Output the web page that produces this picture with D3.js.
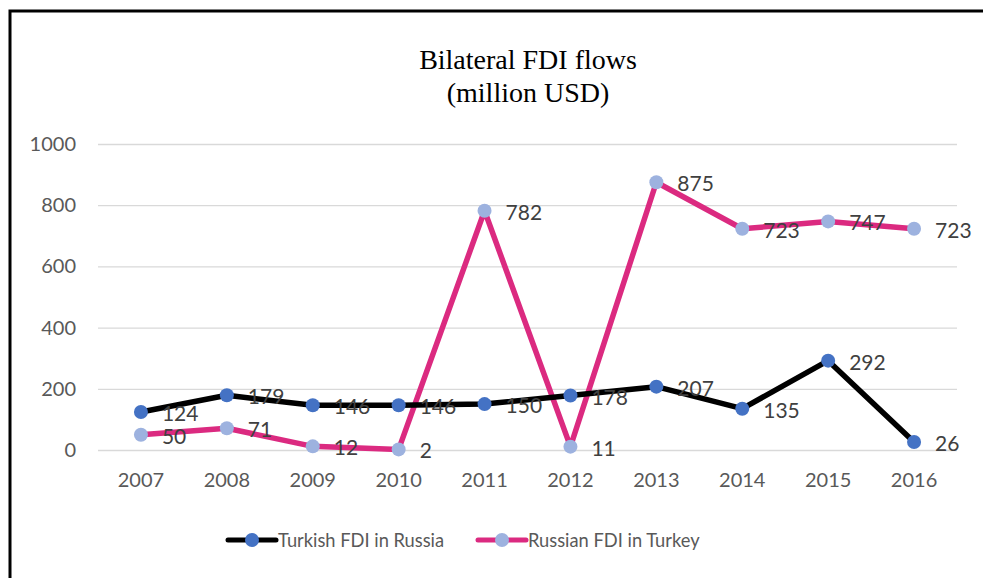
<!DOCTYPE html>
<html>
<head>
<meta charset="utf-8">
<script src="https://cdn.jsdelivr.net/npm/d3@7"></script>
<style>
  html, body { margin: 0; padding: 0; background: #fff; }
  svg { display: block; }
</style>
</head>
<body>
<svg id="chart" width="983" height="578"></svg>
<script>
// Bilateral FDI flows between Turkey and Russia, million USD
const years = ["2007", "2008", "2009", "2010", "2011", "2012", "2013", "2014", "2015", "2016"];
const turkishInRussia = [124, 179, 146, 146, 150, 178, 207, 135, 292, 26];
const russianInTurkey = [50, 71, 12, 2, 782, 11, 875, 723, 747, 723];
const yTicks = [0, 200, 400, 600, 800, 1000];
const seriesNames = ["Turkish FDI in Russia", "Russian FDI in Turkey"];

const series = [
  { name: seriesNames[0], values: turkishInRussia, line: "#000000", marker: "#4472C4" },
  { name: seriesNames[1], values: russianInTurkey, line: "#DB2A80", marker: "#9DB2DF" }
];

const svg = d3.select("#chart");
const W = 983, H = 578;
const plot = { left: 98, right: 957, top: 144, bottom: 450 };
const sansFont = "Lato, 'Open Sans', 'Liberation Sans', sans-serif";

// outer frame
svg.append("rect")
  .attr("x", 10).attr("y", 11)
  .attr("width", W + 20).attr("height", H + 20)
  .attr("fill", "none").attr("stroke", "#000").attr("stroke-width", 3);

// title
const title = svg.append("text")
  .attr("text-anchor", "middle")
  .attr("font-family", "'Liberation Serif', 'Times New Roman', serif")
  .attr("font-size", 28)
  .attr("fill", "#000");
title.append("tspan").attr("x", 528).attr("y", 69).text("Bilateral FDI flows");
title.append("tspan").attr("x", 528).attr("y", 102).text("(million USD)");

const x = d3.scaleBand().domain(years).range([plot.left, plot.right]);
const y = d3.scaleLinear().domain([0, 1000]).range([plot.bottom, plot.top]);

// gridlines + y axis labels
const yAxis = d3.axisLeft(y).tickValues(yTicks).tickFormat(d3.format("d"))
  .tickSize(-(plot.right - plot.left)).tickPadding(22);
const gy = svg.append("g").attr("transform", `translate(${plot.left},0)`).call(yAxis);
gy.select(".domain").remove();
gy.selectAll(".tick line").attr("stroke", "#D9D9D9").attr("stroke-width", 1.3);
gy.selectAll(".tick text")
  .attr("font-family", sansFont).attr("font-size", 20).attr("fill", "#595959");

// x axis labels
const xAxis = d3.axisBottom(x).tickSize(0).tickPadding(23);
const gx = svg.append("g").attr("transform", `translate(0,${plot.bottom})`).call(xAxis);
gx.select(".domain").remove();
gx.selectAll(".tick text")
  .attr("font-family", sansFont).attr("font-size", 20).attr("fill", "#595959");

const cx = d => x(d) + x.bandwidth() / 2;
const line = d3.line().x((v, i) => cx(years[i])).y(v => y(v));

// draw pink series first so the black series sits on top where they cross
[series[1], series[0]].forEach(s => {
  svg.append("path")
    .attr("d", line(s.values))
    .attr("fill", "none")
    .attr("stroke", s.line)
    .attr("stroke-width", 5.5)
    .attr("stroke-linejoin", "round")
    .attr("stroke-linecap", "round");
});

series.forEach(s => {
  svg.append("g").selectAll("circle")
    .data(s.values)
    .join("circle")
    .attr("cx", (v, i) => cx(years[i]))
    .attr("cy", v => y(v))
    .attr("r", 7)
    .attr("fill", s.marker);
});

// data labels to the right of each point
series.forEach(s => {
  svg.append("g").selectAll("text")
    .data(s.values)
    .join("text")
    .attr("x", (v, i) => cx(years[i]) + 21)
    .attr("y", v => y(v) + 9)
    .attr("font-family", sansFont)
    .attr("font-size", 21)
    .attr("fill", "#404040")
    .text(v => v);
});

// legend
const legendItems = [
  { s: series[0], x0: 228, x1: 276, mx: 252, tx: 278 },
  { s: series[1], x0: 478, x1: 526, mx: 502, tx: 528 }
];
const ly = 540;
legendItems.forEach(d => {
  svg.append("line")
    .attr("x1", d.x0).attr("x2", d.x1).attr("y1", ly).attr("y2", ly)
    .attr("stroke", d.s.line).attr("stroke-width", 5).attr("stroke-linecap", "round");
  svg.append("circle").attr("cx", d.mx).attr("cy", ly).attr("r", 7).attr("fill", d.s.marker);
  svg.append("text")
    .attr("x", d.tx).attr("y", ly + 7)
    .attr("font-family", sansFont).attr("font-size", 18.3).attr("fill", "#595959")
    .text(d.s.name);
});
</script>
</body>
</html>
